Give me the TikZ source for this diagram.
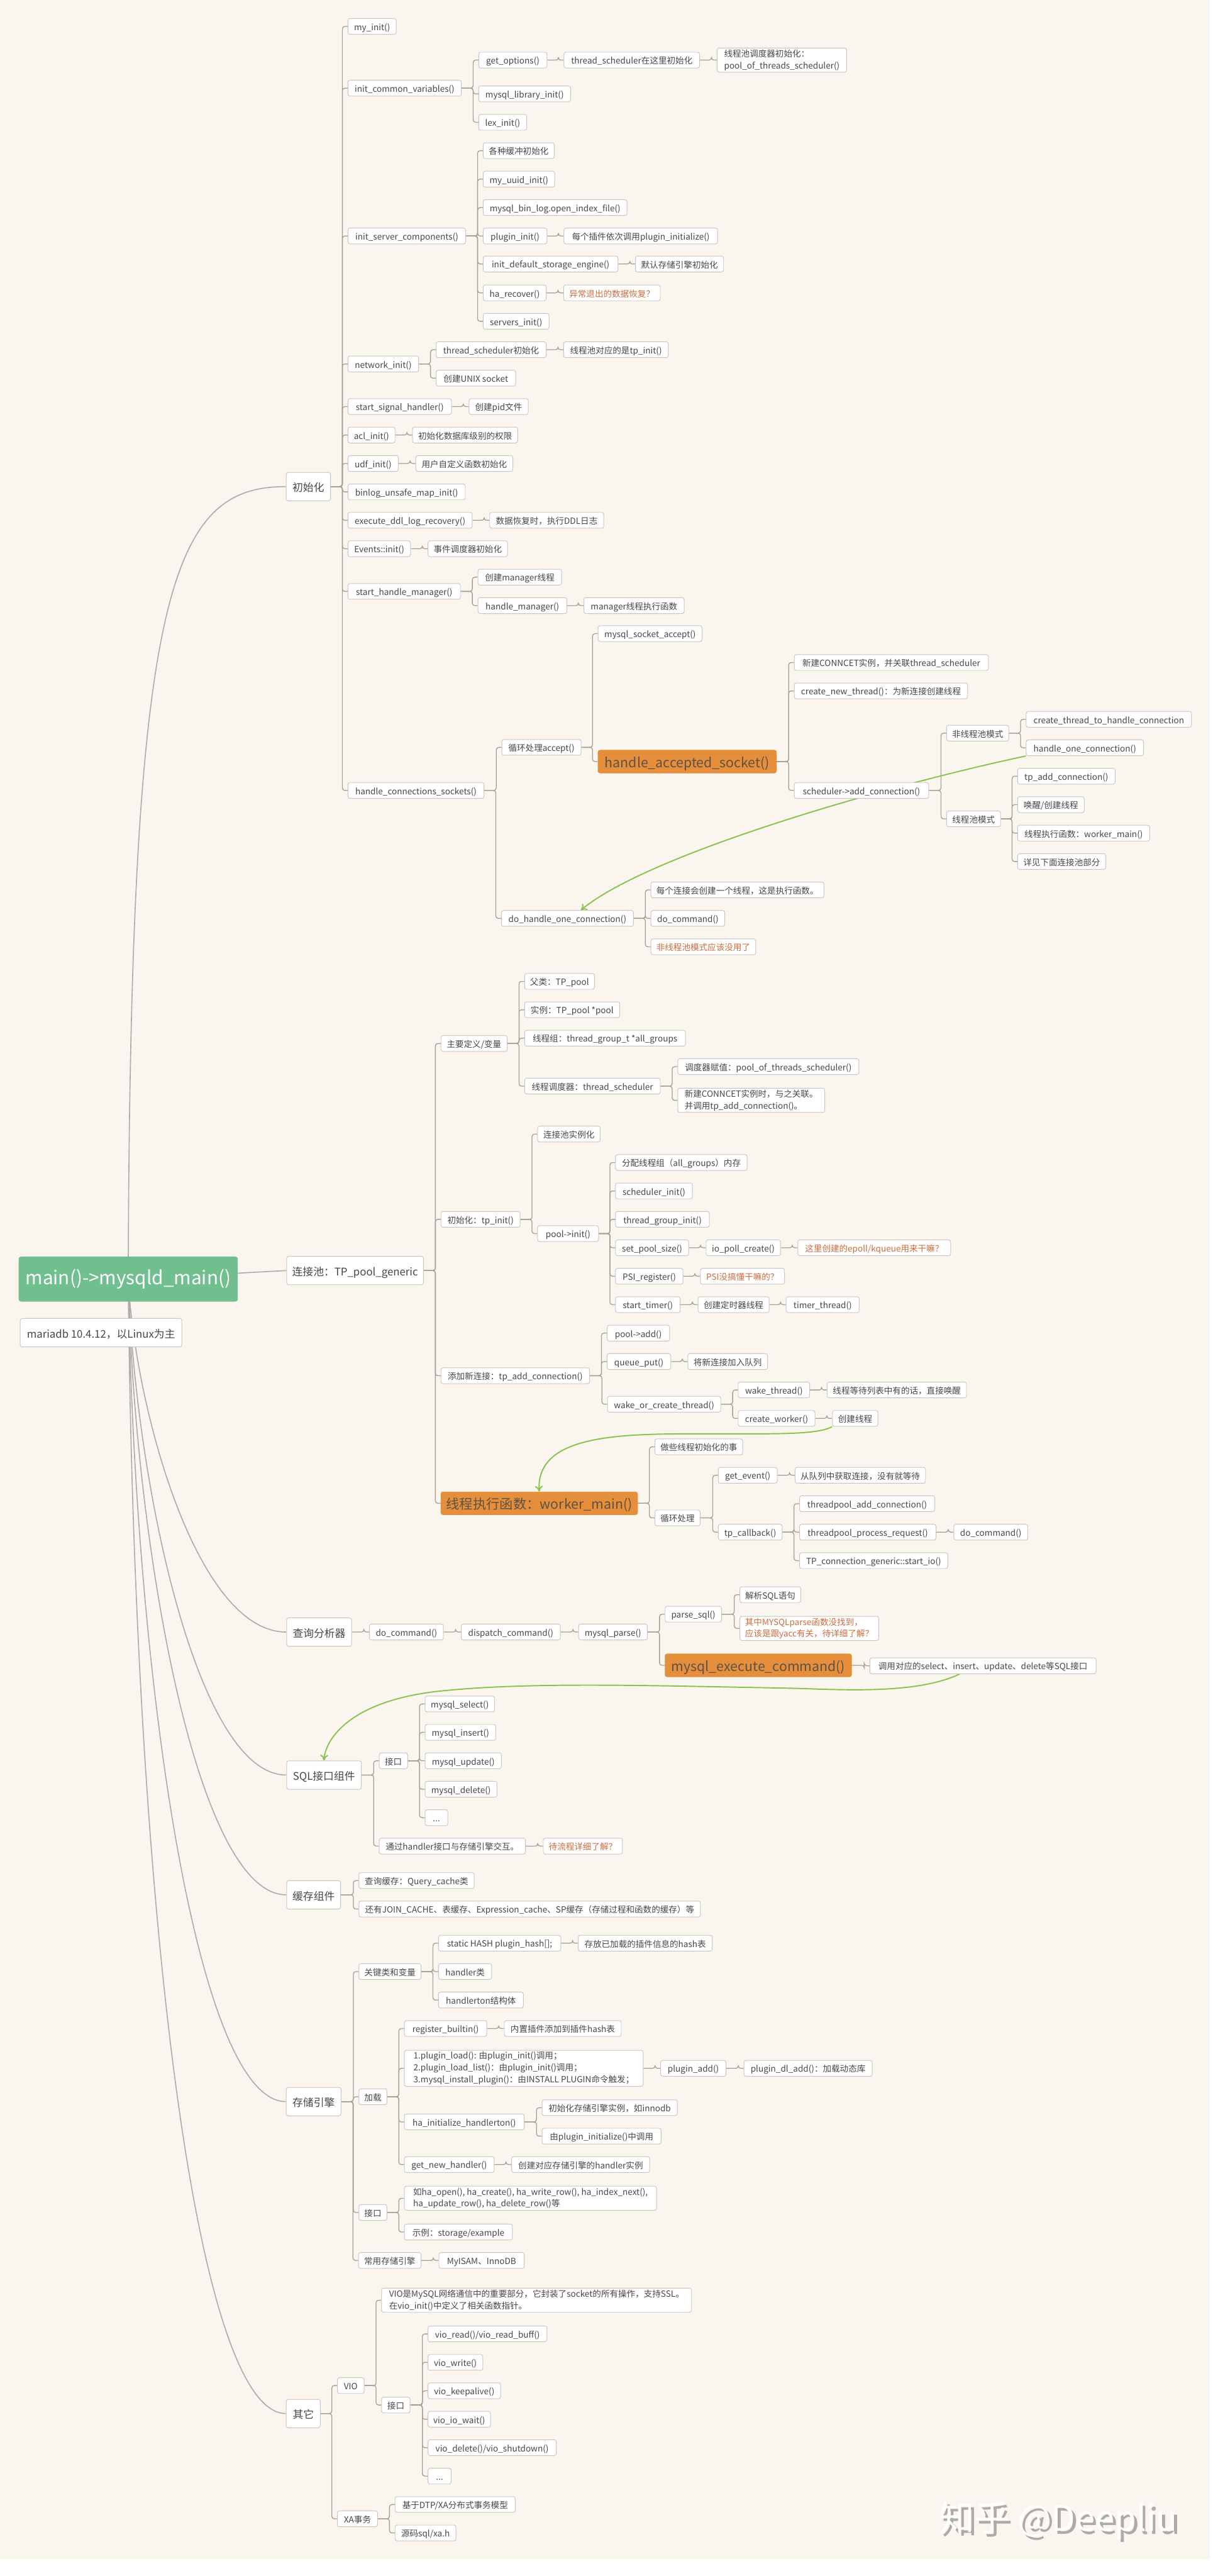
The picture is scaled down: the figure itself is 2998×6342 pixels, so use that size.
\documentclass[tikz,border=0pt]{standalone}
\usepackage{fontspec}
\setmainfont{Noto Sans CJK SC}
\usetikzlibrary{arrows.meta,backgrounds}

\definecolor{pagec}{HTML}{FAF5EF}
\definecolor{linec}{HTML}{A39E96}
\definecolor{rimc}{HTML}{C9C5BF}
\definecolor{inkc}{HTML}{474747}
\definecolor{redc}{HTML}{CC6B3E}
\definecolor{hotc}{HTML}{E58E3C}
\definecolor{rootc}{HTML}{71BF8F}
\definecolor{curvec}{HTML}{ABABAB}
\definecolor{jumpc}{HTML}{8AC250}
\definecolor{shadec}{HTML}{AEABA6}

% text sits a little low in its box
\newcommand{\boxstrut}{\rule[-.16\baselineskip]{0pt}{\baselineskip}}

\tikzset{
  leaf/.style={draw=rimc,fill=white,text=inkc,rounded corners=5pt,line width=1.5pt,
    anchor=west,inner xsep=4pt,inner ysep=4pt,minimum height=39pt,align=left,
    font=\fontsize{21}{29}\selectfont,execute at begin node=\boxstrut,execute at end node=\boxstrut},
  w/.style={minimum width=#1pt},
  redleaf/.style={leaf,text=redc},
  top/.style={leaf,minimum height=70pt,font=\fontsize{26}{37}\selectfont},
  hot/.style={leaf,draw=hotc,fill=hotc,text=inkc!85!hotc,minimum height=56pt,font=\fontsize{33}{44}\selectfont},
  link/.style={draw=linec,line width=2pt,rounded corners=6pt},
  curve/.style={draw=curvec,line width=2.5pt},
  jump/.style={draw=jumpc,line width=3pt,-{To[length=14pt,width=20pt]}}
}

% trunk just left of the children
\newcommand{\branch}[2]{\foreach \c in {#2}
  \draw[link] (#1.east) -- ([xshift=-13pt]\c.west |- #1.east) -- ([xshift=-13pt]\c.west) -- (\c.west);}

\begin{document}
\begin{tikzpicture}[x=1pt,y=-1pt]
\useasboundingbox (0,0) rectangle (2998,6342);

\begin{scope}[on background layer]
\fill[white] (0,0) rectangle (2998,6342);
\fill[pagec] (0,0) rectangle (2979,6300);
\end{scope}

% Root
\node[leaf,draw=rootc,fill=rootc,text=white,minimum height=109pt,w=538,font=\fontsize{46}{46}\selectfont] (root) at (46,3149) {main()->mysqld\_main()};
\node[top,w=398] (version) at (49,3281) {mariadb 10.4.12，以Linux为主};

% Top level
\node[top,w=109] (start) at (704,1198) {初始化};
\node[top,w=337] (pool) at (705,3128) {连接池：TP\_pool\_generic};
\node[top,w=160] (parser) at (705,4018) {查询分析器};
\node[top,w=184] (sqlif) at (705,4370) {SQL接口组件};
\node[top,w=133] (cache) at (705,4665) {缓存组件};
\node[top,w=135] (engine) at (704,5174) {存储引擎};
\node[top,w=84] (other) at (704,5942) {其它};

% Startup
\node[leaf,w=119] (myinit) at (856,65) {my\_init()};
\node[leaf,w=279] (commonvars) at (856,217) {init\_common\_variables()};
\node[leaf,w=168] (getopts) at (1178,148) {get\_options()};
\node[leaf,w=334] (schedhere) at (1388,148) {thread\_scheduler在这里初始化};
\node[leaf,w=319] (schedinit) at (1765,148) {线程池调度器初始化：\\pool\_of\_threads\_scheduler()};
\node[leaf,w=226] (libinit) at (1178,231) {mysql\_library\_init()};
\node[leaf,w=118] (lexinit) at (1178,301) {lex\_init()};
\node[leaf,w=290] (servercomp) at (856,581) {init\_server\_components()};
\node[leaf,w=175] (buffers) at (1189,371) {各种缓冲初始化};
\node[leaf,w=176] (uuidinit) at (1189,441) {my\_uuid\_init()};
\node[leaf,w=354] (binlogidx) at (1189,511) {mysql\_bin\_log.open\_index\_file()};
\node[leaf,w=157] (pluginit) at (1189,581) {plugin\_init()};
\node[leaf,w=378] (plugeach) at (1388,581) {每个插件依次调用plugin\_initialize()};
\node[leaf,w=332] (defengine) at (1189,650) {init\_default\_storage\_engine()};
\node[leaf,w=217] (defnote) at (1564,650) {默认存储引擎初始化};
\node[leaf,w=155] (harecover) at (1189,721) {ha\_recover()};
\node[redleaf,w=238] (recnote) at (1387,721) {异常退出的数据恢复？};
\node[leaf,w=162] (servers) at (1189,791) {servers\_init()};
\node[leaf,w=174] (netinit) at (856,896) {network\_init()};
\node[leaf,w=271] (schednet) at (1073,861) {thread\_scheduler初始化};
\node[leaf,w=258] (tpnote) at (1387,861) {线程池对应的是tp\_init()};
\node[leaf,w=196] (unixsock) at (1073,931) {创建UNIX socket};
\node[leaf,w=255] (signal) at (856,1001) {start\_signal\_handler()};
\node[leaf,w=146] (pidfile) at (1154,1001) {创建pid文件};
\node[leaf,w=116] (aclinit) at (856,1071) {acl\_init()};
\node[leaf,w=259] (aclnote) at (1015,1071) {初始化数据库级别的权限};
\node[leaf,w=124] (udfinit) at (856,1141) {udf\_init()};
\node[leaf,w=239] (udfnote) at (1023,1141) {用户自定义函数初始化};
\node[leaf,w=289] (binlogmap) at (856,1211) {binlog\_unsafe\_map\_init()};
\node[leaf,w=306] (ddlrec) at (856,1281) {execute\_ddl\_log\_recovery()};
\node[leaf,w=281] (ddlnote) at (1205,1281) {数据恢复时，执行DDL日志};
\node[leaf,w=154] (events) at (856,1351) {Events::init()};
\node[leaf,w=196] (evnote) at (1053,1351) {事件调度器初始化};
\node[leaf,w=277] (startmgr) at (856,1456) {start\_handle\_manager()};
\node[leaf,w=206] (mknote) at (1176,1421) {创建manager线程};
\node[leaf,w=219] (handlemgr) at (1176,1491) {handle\_manager()};
\node[leaf,w=247] (mgrnote) at (1437,1491) {manager线程执行函数};
\node[leaf,w=335] (connsock) at (856,1946) {handle\_connections\_sockets()};
\node[leaf,w=195] (loopacc) at (1235,1840) {循环处理accept()};
\node[leaf,w=256] (sockacc) at (1472,1560) {mysql\_socket\_accept()};
\node[hot,w=439] (accepted) at (1472,1875) {handle\_accepted\_socket()};
\node[leaf,w=478] (newconn) at (1955,1631) {新建CONNCET实例，并关联thread\_scheduler};
\node[leaf,w=427] (newthr) at (1955,1701) {create\_new\_thread()：为新连接创建线程};
\node[leaf,w=331] (addconn) at (1955,1946) {scheduler->add\_connection()};
\node[leaf,w=153] (nonpool) at (2330,1805) {非线程池模式};
\node[leaf,w=407] (thrhandle) at (2526,1771) {create\_thread\_to\_handle\_connection};
\node[leaf,w=289] (handleone) at (2526,1841) {handle\_one\_connection()};
\node[leaf,w=133] (poolmode) at (2330,2016) {线程池模式};
\node[leaf,w=240] (tpadd) at (2505,1911) {tp\_add\_connection()};
\node[leaf,w=164] (wakemk) at (2505,1981) {唤醒/创建线程};
\node[leaf,w=325] (workfn) at (2505,2051) {线程执行函数：worker\_main()};
\node[leaf,w=217] (seebelow) at (2505,2121) {详见下面连接池部分};
\node[leaf,w=325] (doconn) at (1234,2261) {do\_handle\_one\_connection()};
\node[leaf,w=426] (perconn) at (1602,2191) {每个连接会创建一个线程，这是执行函数。};
\node[leaf,w=182] (docmd) at (1602,2261) {do\_command()};
\node[redleaf,w=258] (unused) at (1602,2331) {非线程池模式应该没用了};

% Connection pool
\node[leaf,w=163] (defs) at (1085,2569) {主要定义/变量};
\node[leaf,w=172] (parentcls) at (1291,2416) {父类：TP\_pool};
\node[leaf,w=234] (instance) at (1291,2486) {实例：TP\_pool *pool};
\node[leaf,w=396] (groups) at (1291,2556) {线程组：thread\_group\_t *all\_groups};
\node[leaf,w=334] (threadsch) at (1291,2674) {线程调度器：thread\_scheduler};
\node[leaf,w=446] (assign) at (1668,2626) {调度器赋值：pool\_of\_threads\_scheduler()};
\node[leaf,w=362] (relate) at (1668,2709) {新建CONNCET实例时，与之关联。\\并调用tp\_add\_connection()。};
\node[leaf,w=195] (tpinit) at (1085,3002) {初始化：tp\_init()};
\node[leaf,w=154] (poolinst) at (1323,2792) {连接池实例化};
\node[leaf,w=150] (poolinit) at (1323,3037) {pool->init()};
\node[leaf,w=324] (allocgrp) at (1515,2862) {分配线程组（all\_groups）内存};
\node[leaf,w=189] (schedinit2) at (1515,2932) {scheduler\_init()};
\node[leaf,w=231] (grpinit) at (1515,3002) {thread\_group\_init()};
\node[leaf,w=180] (setsize) at (1515,3072) {set\_pool\_size()};
\node[leaf,w=183] (iopoll) at (1738,3072) {io\_poll\_create()};
\node[redleaf,w=376] (epollnote) at (1964,3072) {这里创建的epoll/kqueue用来干嘛？};
\node[leaf,w=166] (psireg) at (1515,3142) {PSI\_register()};
\node[redleaf,w=207] (psinote) at (1724,3142) {PSI没搞懂干嘛的？};
\node[leaf,w=159] (starttm) at (1515,3212) {start\_timer()};
\node[leaf,w=175] (mktimer) at (1718,3212) {创建定时器线程};
\node[leaf,w=180] (timerthr) at (1935,3212) {timer\_thread()};
\node[leaf,w=366] (addnew) at (1085,3387) {添加新连接：tp\_add\_connection()};
\node[leaf,w=154] (pooladd) at (1494,3282) {pool->add()};
\node[leaf,w=157] (queueput) at (1494,3352) {queue\_put()};
\node[leaf,w=196] (queuenote) at (1693,3352) {将新连接加入队列};
\node[leaf,w=279] (wakeorc) at (1495,3457) {wake\_or\_create\_thread()};
\node[leaf,w=176] (wakethr) at (1817,3422) {wake\_thread()};
\node[leaf,w=343] (wakenote) at (2036,3422) {线程等待列表中有的话，直接唤醒};
\node[leaf,w=189] (mkworker) at (1817,3492) {create\_worker()};
\node[leaf,w=112] (mkthr) at (2049,3492) {创建线程};
\node[hot,w=484] (worker) at (1085,3701) {线程执行函数：worker\_main()};
\node[leaf,w=216] (wkinit) at (1612,3562) {做些线程初始化的事};
\node[leaf,w=111] (wkloop) at (1612,3737) {循环处理};
\node[leaf,w=145] (getevt) at (1768,3632) {get\_event()};
\node[leaf,w=321] (evtnote) at (1957,3632) {从队列中获取连接，没有就等待};
\node[leaf,w=157] (tpcb) at (1768,3772) {tp\_callback()};
\node[leaf,w=333] (pooladdc) at (1968,3702) {threadpool\_add\_connection()};
\node[leaf,w=336] (poolproc) at (1968,3772) {threadpool\_process\_request()};
\node[leaf,w=182] (docmdb) at (2348,3772) {do\_command()};
\node[leaf,w=365] (startio) at (1968,3842) {TP\_connection\_generic::start\_io()};

% Query parser
\node[leaf,w=182] (docmdc) at (909,4018) {do\_command()};
\node[leaf,w=244] (dispatch) at (1135,4018) {dispatch\_command()};
\node[leaf,w=169] (myparse) at (1424,4018) {mysql\_parse()};
\node[leaf,w=139] (parsesql) at (1637,3974) {parse\_sql()};
\node[leaf,w=150] (parsenote) at (1821,3926) {解析SQL语句};
\node[redleaf,w=342] (yaccnote) at (1821,4009) {其中MYSQLparse函数没找到，\\应该是跟yacc有关，待详细了解？};
\node[hot,w=459] (execcmd) at (1637,4100) {mysql\_execute\_command()};
\node[leaf,w=557] (sqlcall) at (2141,4101) {调用对应的select、insert、update、delete等SQL接口};

% SQL interface
\node[leaf,w=70] (sqlapi) at (933,4335) {接口};
\node[leaf,w=171] (mysel) at (1046,4195) {mysql\_select()};
\node[leaf,w=174] (myins) at (1046,4265) {mysql\_insert()};
\node[leaf,w=188] (myupd) at (1046,4335) {mysql\_update()};
\node[leaf,w=177] (mydel) at (1046,4405) {mysql\_delete()};
\node[leaf,w=56] (mymore) at (1046,4475) {...};
\node[leaf,w=360] (viahandler) at (933,4545) {通过handler接口与存储引擎交互。};
\node[redleaf,w=195] (flownote) at (1337,4545) {待流程详细了解？};

% Cache
\node[leaf,w=284] (qcache) at (883,4630) {查询缓存：Query\_cache类};
\node[leaf,w=841] (morecache) at (883,4700) {还有JOIN\_CACHE、表缓存、Expression\_cache、SP缓存（存储过程和函数的缓存）等};

% Storage engine
\node[leaf,w=153] (keyvars) at (883,4854) {关键类和变量};
\node[leaf,w=301] (pluhash) at (1079,4784) {static HASH plugin\_hash[];};
\node[leaf,w=330] (hashnote) at (1423,4784) {存放已加载的插件信息的hash表};
\node[leaf,w=131] (handlercls) at (1079,4854) {handler类};
\node[leaf,w=209] (hton) at (1079,4924) {handlerton结构体};
\node[leaf,w=69] (loading) at (883,5162) {加载};
\node[leaf,w=203] (regbuilt) at (995,4994) {register\_builtin()};
\node[leaf,w=288] (regnote) at (1241,4994) {内置插件添加到插件hash表};
\node[leaf,w=588] (loadlist) at (995,5092) {1.plugin\_load(): 由plugin\_init()调用；\\2.plugin\_load\_list()：由plugin\_init()调用；\\3.mysql\_install\_plugin()：由INSTALL PLUGIN命令触发；};
\node[leaf,w=161] (pluadd) at (1626,5092) {plugin\_add()};
\node[leaf,w=316] (pludl) at (1831,5092) {plugin\_dl\_add()：加载动态库};
\node[leaf,w=295] (hainit) at (995,5224) {ha\_initialize\_handlerton()};
\node[leaf,w=333] (hainote) at (1334,5189) {初始化存储引擎实例，如innodb};
\node[leaf,w=293] (hacall) at (1334,5259) {由plugin\_initialize()中调用};
\node[leaf,w=221] (newhand) at (995,5329) {get\_new\_handler()};
\node[leaf,w=340] (newnote) at (1259,5329) {创建对应存储引擎的handler实例};
\node[leaf,w=69] (engapi) at (883,5447) {接口};
\node[leaf,w=621] (hafuncs) at (995,5412) {如ha\_open(), ha\_create(), ha\_write\_row(), ha\_index\_next(),\\ha\_update\_row(), ha\_delete\_row()等};
\node[leaf,w=266] (example) at (995,5495) {示例：storage/example};
\node[leaf,w=154] (common) at (882,5565) {常用存储引擎};
\node[leaf,w=210] (myisam) at (1080,5565) {MyISAM、InnoDB};

% Other
\node[leaf,w=66] (vio) at (830,5873) {VIO};
\node[leaf,w=763] (vionote) at (939,5663) {VIO是MySQL网络通信中的重要部分，它封装了socket的所有操作，支持SSL。\\在vio\_init()中定义了相关函数指针。};
\node[leaf,w=70] (vioapi) at (939,5921) {接口};
\node[leaf,w=293] (vioread) at (1053,5746) {vio\_read()/vio\_read\_buff()};
\node[leaf,w=135] (viowrite) at (1053,5816) {vio\_write()};
\node[leaf,w=179] (viokeep) at (1053,5886) {vio\_keepalive()};
\node[leaf,w=154] (viowait) at (1053,5956) {vio\_io\_wait()};
\node[leaf,w=316] (viodel) at (1053,6026) {vio\_delete()/vio\_shutdown()};
\node[leaf,w=57] (viomore) at (1053,6096) {...};
\node[leaf,w=99] (xa) at (830,6201) {XA事务};
\node[leaf,w=296] (xamodel) at (972,6166) {基于DTP/XA分布式事务模型};
\node[leaf,w=150] (xasrc) at (972,6236) {源码sql/xa.h};

% Watermark
\node[anchor=west,text=shadec,font=\fontsize{87}{100}\selectfont] (markshade) at (2316,6212) {知乎 @Deepliu};
\node[anchor=west,text=white,font=\fontsize{87}{100}\selectfont] (marktext) at (2309,6205) {知乎 @Deepliu};

\begin{scope}[on background layer]
% Curves from the root
\draw[curve] (root.center) .. controls (320,1450) and (420,1198) .. (start.west);
\draw[curve] (root.center) -- (pool.west);
\draw[curve] (root.center) .. controls (330,3450) and (480,4018) .. (parser.west);
\draw[curve] (root.center) .. controls (330,3621) and (480,4370) .. (sqlif.west);
\draw[curve] (root.center) .. controls (330,3783) and (480,4665) .. (cache.west);
\draw[curve] (root.center) .. controls (330,4101) and (480,5174) .. (engine.west);
\draw[curve] (root.center) .. controls (330,4685) and (480,5942) .. (other.west);

% Startup links
\branch{start}{myinit,commonvars,servercomp,netinit,signal,aclinit,udfinit,binlogmap,ddlrec,events,startmgr,connsock}
\branch{commonvars}{getopts,libinit,lexinit}
\branch{getopts}{schedhere}
\branch{schedhere}{schedinit}
\branch{servercomp}{buffers,uuidinit,binlogidx,pluginit,defengine,harecover,servers}
\branch{pluginit}{plugeach}
\branch{defengine}{defnote}
\branch{harecover}{recnote}
\branch{netinit}{schednet,unixsock}
\branch{schednet}{tpnote}
\branch{signal}{pidfile}
\branch{aclinit}{aclnote}
\branch{udfinit}{udfnote}
\branch{ddlrec}{ddlnote}
\branch{events}{evnote}
\branch{startmgr}{mknote,handlemgr}
\branch{handlemgr}{mgrnote}
\branch{connsock}{loopacc,doconn}
\branch{loopacc}{sockacc,accepted}
\branch{accepted}{newconn,newthr,addconn}
\branch{addconn}{nonpool,poolmode}
\branch{nonpool}{thrhandle,handleone}
\branch{poolmode}{tpadd,wakemk,workfn,seebelow}
\branch{doconn}{perconn,docmd,unused}

% Pool links
\branch{pool}{defs,tpinit,addnew,worker}
\branch{defs}{parentcls,instance,groups,threadsch}
\branch{threadsch}{assign,relate}
\branch{tpinit}{poolinst,poolinit}
\branch{poolinit}{allocgrp,schedinit2,grpinit,setsize,psireg,starttm}
\branch{setsize}{iopoll}
\branch{iopoll}{epollnote}
\branch{psireg}{psinote}
\branch{starttm}{mktimer}
\branch{mktimer}{timerthr}
\branch{addnew}{pooladd,queueput,wakeorc}
\branch{queueput}{queuenote}
\branch{wakeorc}{wakethr,mkworker}
\branch{wakethr}{wakenote}
\branch{mkworker}{mkthr}
\branch{worker}{wkinit,wkloop}
\branch{wkloop}{getevt,tpcb}
\branch{getevt}{evtnote}
\branch{tpcb}{pooladdc,poolproc,startio}
\branch{poolproc}{docmdb}

% Parser and SQL links
\branch{parser}{docmdc}
\branch{docmdc}{dispatch}
\branch{dispatch}{myparse}
\branch{myparse}{parsesql,execcmd}
\branch{parsesql}{parsenote,yaccnote}
\branch{execcmd}{sqlcall}
\branch{sqlif}{sqlapi,viahandler}
\branch{sqlapi}{mysel,myins,myupd,mydel,mymore}
\branch{viahandler}{flownote}
\branch{cache}{qcache,morecache}

% Engine links
\branch{engine}{keyvars,loading,engapi,common}
\branch{keyvars}{pluhash,handlercls,hton}
\branch{pluhash}{hashnote}
\branch{loading}{regbuilt,loadlist,hainit,newhand}
\branch{regbuilt}{regnote}
\branch{loadlist}{pluadd}
\branch{pluadd}{pludl}
\branch{hainit}{hainote,hacall}
\branch{newhand}{newnote}
\branch{engapi}{hafuncs,example}
\branch{common}{myisam}

% Other links
\branch{other}{vio,xa}
\branch{vio}{vionote,vioapi}
\branch{vioapi}{vioread,viowrite,viokeep,viowait,viodel,viomore}
\branch{xa}{xamodel,xasrc}

% Green jumps
\draw[jump] (handleone.south west) .. controls (2200,1930) and (1600,2100) .. ([xshift=33pt]doconn.north);
\draw[jump] (mkthr.south west) .. controls (2010,3535) and (1880,3529) .. (1700,3530) .. controls (1500,3530) and (1320,3540) .. (worker.north);
\draw[jump] ([xshift=-57pt]sqlcall.south) .. controls (2250,4175) and (2050,4158) .. (1933,4156) .. controls (1600,4150) and (1300,4140) .. (1077,4164) .. controls (850,4190) and (800,4290) .. (sqlif.north);
\end{scope}

\end{tikzpicture}
\end{document}
